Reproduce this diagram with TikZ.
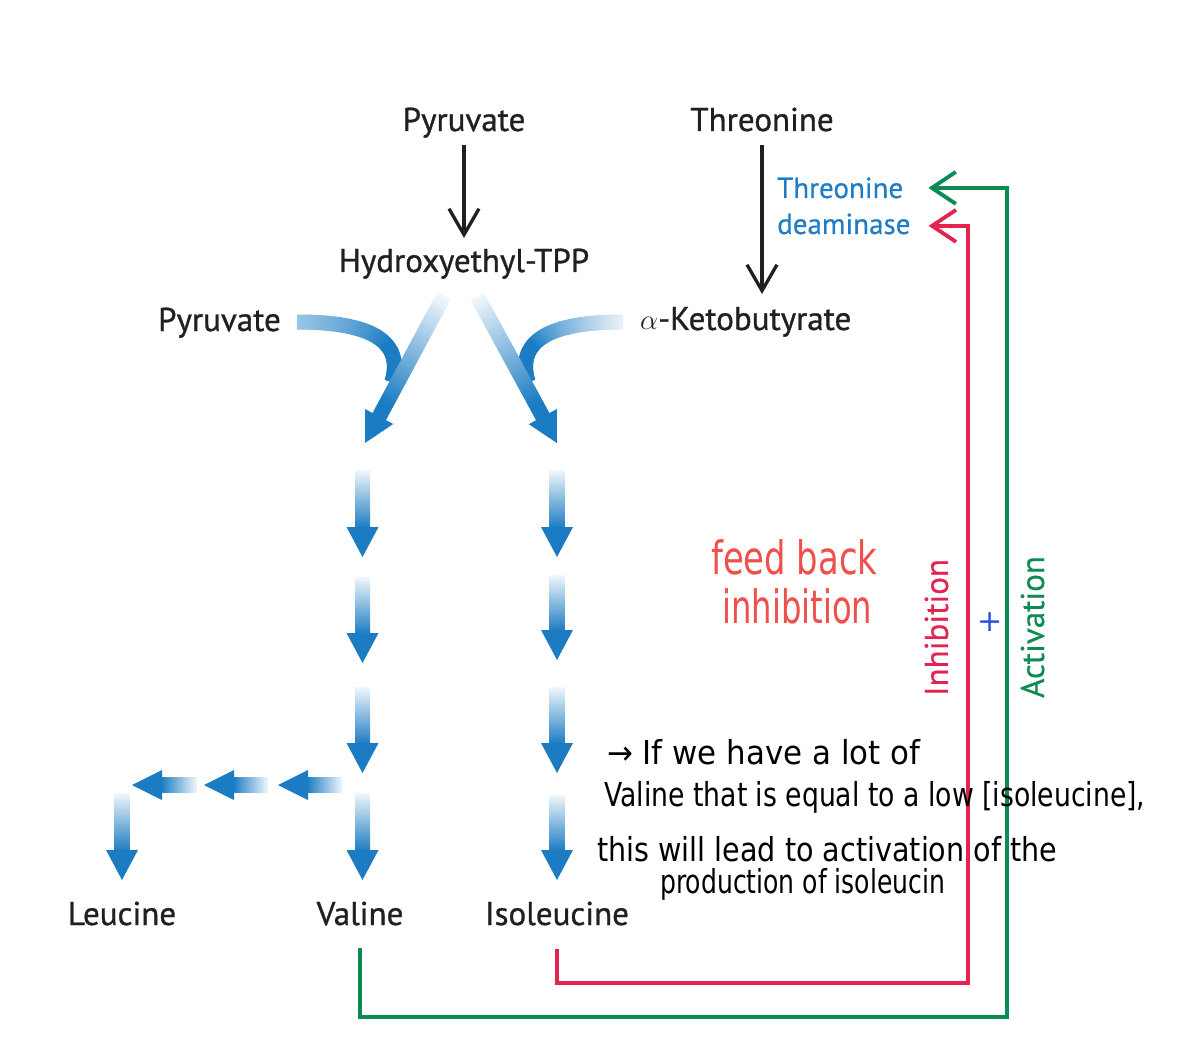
\documentclass[tikz,border=0pt]{standalone}
\usepackage{graphicx}
\usepackage{fontspec}
\setmainfont{PT Sans}
\newfontfamily\lblfont[FakeBold=0.9]{PT Sans}
\newfontfamily\midfont[FakeBold=0.35]{PT Sans}
\newfontfamily\handfont{DejaVu Sans}
\usetikzlibrary{arrows.meta}
\definecolor{blueD}{HTML}{1B7CC3}
\definecolor{txt}{HTML}{231F20}
\definecolor{enz}{HTML}{1F7CC6}
\definecolor{inhred}{HTML}{E4234F}
\definecolor{actgreen}{HTML}{0E8B52}
\definecolor{handred}{HTML}{F04F4B}
\definecolor{plusblue}{HTML}{2D4FE3}
\tikzset{
  declare function={bz(\q,\qa,\qb,\qc,\qd)=(1-\q)^3*\qa+3*(1-\q)^2*\q*\qb+3*(1-\q)*\q^2*\qc+\q^3*\qd;},
  lbl/.style={font=\lblfont\fontsize{33}{38}\selectfont, text=txt, inner sep=0pt},
  enzlbl/.style={font=\midfont\fontsize{29}{34}\selectfont, text=enz, inner sep=0pt, anchor=base west},
  rotlbl/.style={font=\midfont\fontsize{33}{38}\selectfont, inner sep=0pt, rotate=90},
  handr/.style={font=\handfont\fontsize{46}{52}\selectfont, text=handred, inner sep=0pt, anchor=base west},
  handb/.style={font=\handfont\fontsize{33}{38}\selectfont, text=black, inner sep=0pt, anchor=base west},
  blkarrow/.style={draw=txt, line width=3.3pt, -{Straight Barb[length=26pt,width=30pt]}},
  inhline/.style={draw=inhred, line width=3.8pt, -{Straight Barb[length=24pt,width=32pt]}},
  actline/.style={draw=actgreen, line width=3.8pt, -{Straight Barb[length=24pt,width=32pt]}},
  headfill/.style={fill=blueD}
}
% gradient stroke along a cubic bezier
\newcommand\gradcurve[9]{%
  \foreach \k in {0,...,47}{%
    \pgfmathsetmacro\ta{\k/48}%
    \pgfmathsetmacro\tb{min(1,(\k+1.6)/48)}%
    \pgfmathsetmacro\xa{bz(\ta,#1,#3,#5,#7)}%
    \pgfmathsetmacro\ya{bz(\ta,#2,#4,#6,#8)}%
    \pgfmathsetmacro\xb{bz(\tb,#1,#3,#5,#7)}%
    \pgfmathsetmacro\yb{bz(\tb,#2,#4,#6,#8)}%
    \pgfmathtruncatemacro\pc{min(100,\gstart+(100-\gstart)*\ta*\gspeed)}%
    \draw[line width=#9, draw=blueD!\pc!white] (\xa,\ya) -- (\xb,\yb);
  }}
% vertical gradient arrow: x, top, tip
\newcommand\vgarrow[3]{%
  \shade[top color=blueD!6!white, bottom color=blueD] (#1-7.5,#2) rectangle (#1+7.5,#3-29);
  \fill[headfill] (#1-16,#3-30) -- (#1+16,#3-30) -- (#1,#3) -- cycle;}
% horizontal gradient arrow (pointing left): tail x, tip x, y
\newcommand\hgarrow[3]{%
  \shade[left color=blueD, right color=blueD!6!white] (#2+29,#3-7.5) rectangle (#1,#3+7.5);
  \fill[headfill] (#2+30,#3-15) -- (#2+30,#3+15) -- (#2,#3) -- cycle;}
\begin{document}
\begin{tikzpicture}[x=1pt,y=-1pt]
\useasboundingbox[fill=white] (0,0) rectangle (1178,1059);

% ---- labels
\node[lbl, anchor=base] (pyr1) at (464,131) {Pyruvate};
\node[lbl, anchor=base] (thr) at (762,131) {Threonine};
\node[lbl, anchor=base] (hetpp) at (464,272) {Hydroxyethyl-TPP};
\node[lbl, anchor=base east] (pyr2) at (281,331) {Pyruvate};
\node[lbl, anchor=base west] (akb) at (640,330) {\scalebox{1.15}{$\alpha$}-Ketobutyrate};
\node[lbl, anchor=base] (leu) at (122,925) {Leucine};
\node[lbl, anchor=base] (val) at (360,925) {Valine};
\node[lbl, anchor=base] (iso) at (557,925) {Isoleucine};
\node[enzlbl] (thrd1) at (777,198) {Threonine};
\node[enzlbl] (thrd2) at (777,234) {deaminase};

% ---- black arrows
\draw[blkarrow] ([yshift=-14pt]pyr1.base) -- ([yshift=34pt]hetpp.base);
\draw[blkarrow] ([yshift=-14pt]thr.base) -- ([yshift=36pt]akb.base -| thr.base);

% ---- curved gradient arrows
\def\gstart{45}\def\gspeed{1.6}
\gradcurve{297}{322}{365}{322}{405}{338}{392}{382}{15}
\def\gstart{12}\def\gspeed{1.6}
\gradcurve{623}{322}{555}{322}{515}{338}{528}{382}{15}
% diagonal arrows
\def\gstart{6}\def\gspeed{1.15}
\gradcurve{444}{296}{422.3}{336.3}{400.7}{376.7}{378.5}{418}{15}
\fill[headfill] (393.2,424) -- (365,409) -- (365,443) -- cycle;
\gradcurve{477}{296}{499}{336.3}{521}{376.7}{543.5}{418}{15}
\fill[headfill] (556.9,409) -- (528.7,424.2) -- (557,443) -- cycle;

% ---- vertical gradient arrows
\vgarrow{362.5}{470}{557}
\vgarrow{362.5}{577}{663}
\vgarrow{362.5}{687}{773}
\vgarrow{362.5}{793}{880}
\vgarrow{557}{470}{557}
\vgarrow{557}{575}{660}
\vgarrow{557}{687}{773}
\vgarrow{557}{795}{880}
\vgarrow{122}{793}{880}
% ---- horizontal gradient arrows
\hgarrow{342}{278}{785}
\hgarrow{268}{204}{785}
\hgarrow{197}{132}{785}

% ---- feedback connectors
\coordinate (gcorner) at (1007,1017);
\coordinate (rcorner) at (968,983);
\draw[actline] ([yshift=-22pt]val.south) |- (gcorner) |- ([xshift=25pt]thrd1.east);
\draw[inhline] ([yshift=-23pt]iso.south) |- (rcorner) |- ([xshift=18pt,yshift=-2pt]thrd2.east);

\node[rotlbl, text=inhred] (inh) at (936.5,627.5) {Inhibition};
\node[rotlbl, text=actgreen] (act) at (1032.5,627) {Activation};

% ---- handwritten notes
\node[handr] (fb1) at (711,574) {\resizebox{166pt}{\height}{feed back}};
\node[handr] (fb2) at (722,623) {\resizebox{150pt}{\height}{inhibition}};
\node[font=\handfont\fontsize{30}{36}\selectfont, text=plusblue, inner sep=0pt] (plus) at (990,622) {+};
\node[handb] (h1) at (607,764) {\resizebox{313pt}{\height}{→ If we have a lot of}};
\node[handb] (h2) at (604,806) {\resizebox{541pt}{\height}{Valine that is equal to a low [isoleucine],}};
\node[handb] (h3) at (597,861) {\resizebox{460pt}{\height}{this will lead to activation of the}};
\node[handb] (h4) at (660,893) {\resizebox{285pt}{\height}{production of isoleucin}};
\end{tikzpicture}
\end{document}
